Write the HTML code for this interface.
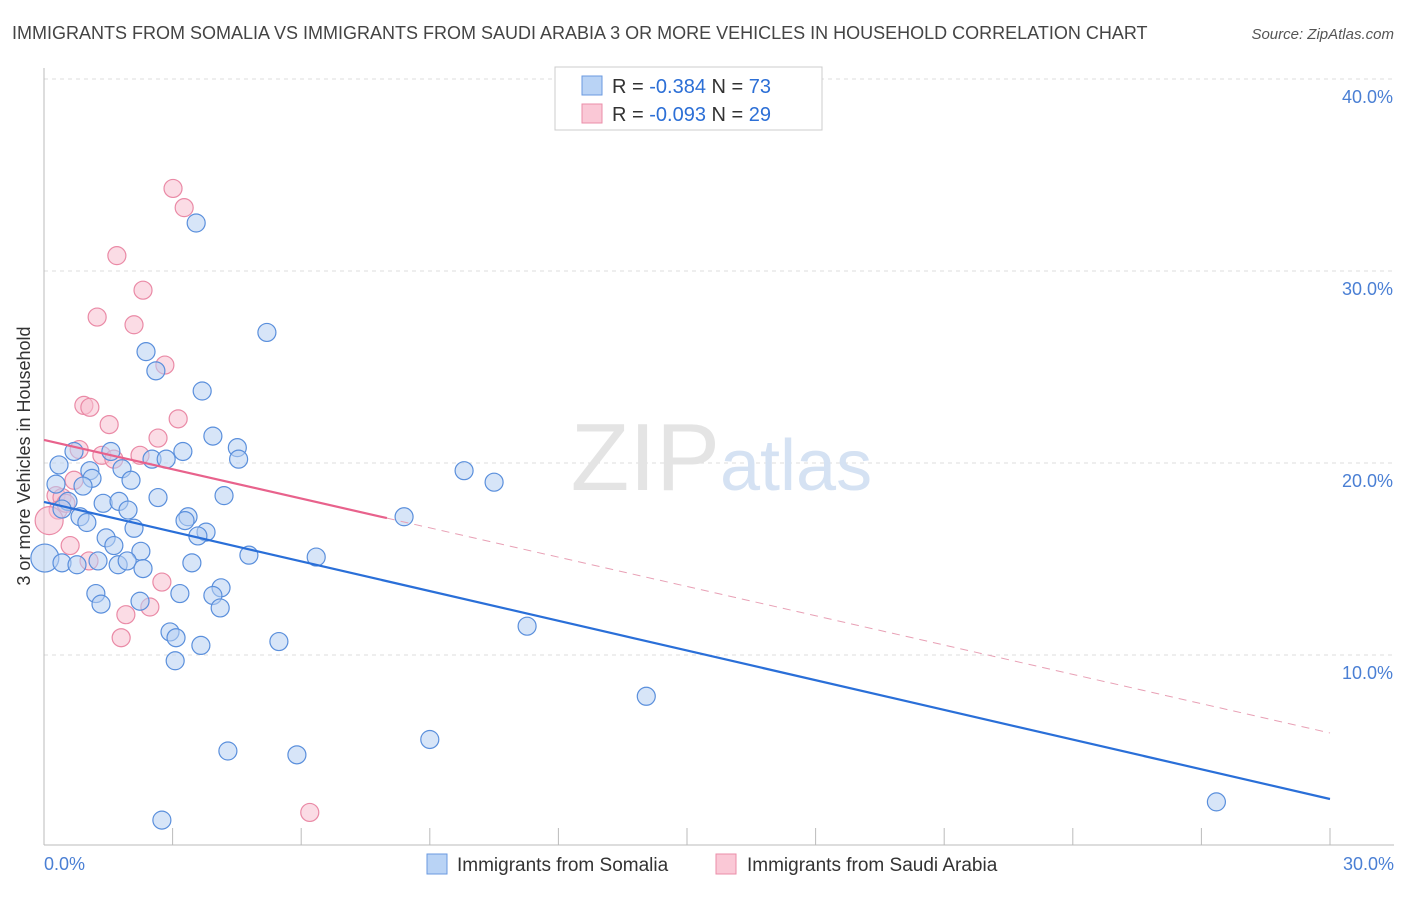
<!DOCTYPE html>
<html><head><meta charset="utf-8"><style>
body{margin:0;background:#fff;font-family:"Liberation Sans",sans-serif;}
svg text{font-family:"Liberation Sans",sans-serif;}
</style></head><body>
<svg width="1406" height="892">
<text x="12" y="39" font-size="18" fill="#444">IMMIGRANTS FROM SOMALIA VS IMMIGRANTS FROM SAUDI ARABIA 3 OR MORE VEHICLES IN HOUSEHOLD CORRELATION CHART</text>
<text x="1394" y="39" font-size="15" fill="#555" font-style="italic" text-anchor="end">Source: ZipAtlas.com</text>
<g id="grid"></g>
<text x="720" y="490" font-size="96" fill="#e4e4e4" font-family="Liberation Serif" text-anchor="end">ZIP</text>
<text x="720" y="490" font-size="72" fill="#d5e2f3">atlas</text>
<line x1="44" y1="68" x2="44" y2="845" stroke="#bbb"/>
<line x1="44" y1="845" x2="1394" y2="845" stroke="#bbb"/>
<g id="xticks"></g>
<text x="30" y="456" font-size="18" fill="#333" transform="rotate(-90 30 456)" text-anchor="middle">3 or more Vehicles in Household</text>
<text x="44" y="870" font-size="18" fill="#4a7fd4">0.0%</text>
<text x="1394" y="870" font-size="18" fill="#4a7fd4" text-anchor="end">30.0%</text>
<g id="points"></g>
<g id="lines"></g>
<g>
<rect x="555" y="67" width="267" height="63" fill="#fff" stroke="#ccc"/>
<rect x="582" y="76" width="20" height="19" fill="#b9d3f5" stroke="#6a9ae0"/>
<rect x="582" y="104" width="20" height="19" fill="#fac8d6" stroke="#eb8ea8"/>
<text x="612" y="93" font-size="20" fill="#333">R = <tspan fill="#2c6fd6">-0.384</tspan>   N = <tspan fill="#2c6fd6">73</tspan></text>
<text x="612" y="121" font-size="20" fill="#333">R = <tspan fill="#2c6fd6">-0.093</tspan>   N = <tspan fill="#2c6fd6">29</tspan></text>
</g>
<g>
<rect x="427" y="854" width="20" height="20" fill="#b9d3f5" stroke="#6a9ae0"/>
<text x="457" y="871" font-size="19" fill="#333">Immigrants from Somalia</text>
<rect x="716" y="854" width="20" height="20" fill="#fac8d6" stroke="#eb8ea8"/>
<text x="747" y="871" font-size="19" fill="#333">Immigrants from Saudi Arabia</text>
</g>
</svg>
<script>
const yTicks=[10,20,30,40];
const xTickVals=[3,6,9,12,15,18,21,24,27,30];
const somaliaX=[3.55,5.2,2.38,2.61,3.69,3.94,4.51,1.56,3.24,0.7,4.54,2.52,2.85,0.35,1.07,1.82,9.8,10.5,1.12,2.03,0.28,0.91,2.66,4.2,0.56,1.38,1.75,0.42,1.96,0.84,8.4,3.36,1.0,3.29,2.1,3.78,3.59,1.45,1.63,2.26,4.78,6.35,0.02,0.42,0.77,1.26,1.73,1.94,2.31,3.45,4.13,1.21,3.17,3.94,1.33,2.24,4.11,11.27,2.94,3.08,5.48,3.66,3.06,14.05,9.0,4.29,5.9,2.75,27.35];
const somaliaY=[32.5,26.8,25.8,24.8,23.75,21.4,20.8,20.6,20.6,20.6,20.2,20.2,20.2,19.9,19.6,19.7,19.6,19.0,19.2,19.1,18.9,18.8,18.2,18.3,18.0,17.9,18.0,17.6,17.55,17.2,17.2,17.2,16.9,17.0,16.6,16.4,16.2,16.1,15.7,15.4,15.2,15.1,15.05,14.8,14.7,14.9,14.7,14.9,14.5,14.8,13.5,13.2,13.2,13.1,12.65,12.8,12.45,11.5,11.2,10.9,10.7,10.5,9.7,7.85,5.6,5.0,4.8,1.4,2.35];
const saudiX=[3.01,3.27,1.7,2.31,1.24,2.1,2.82,0.93,1.07,3.13,1.52,2.66,0.82,1.35,2.24,1.63,0.7,0.28,0.42,0.33,0.12,0.61,1.05,2.75,2.47,1.91,1.8,6.2,0.51];
const saudiY=[34.3,33.3,30.8,29.0,27.6,27.2,25.1,23.0,22.9,22.3,22.0,21.3,20.7,20.4,20.4,20.2,19.1,18.3,18.2,17.55,17.0,15.7,14.9,13.8,12.5,12.1,10.9,1.8,17.9];
const somaliaTrend=[17.97,2.5];
const saudiTrend=[21.2,5.94];
const saudiSolidEnd=8.0;
const NS='http://www.w3.org/2000/svg';
const sx=v=>44+v/30*1286, sy=v=>847-v*19.2;
function mk(t,a,p){const e=document.createElementNS(NS,t);for(const k in a)e.setAttribute(k,a[k]);p.appendChild(e);return e;}
const grid=document.getElementById('grid');
yTicks.forEach(t=>{
 const l=mk('line',{x1:44,x2:1394,y1:sy(t),y2:sy(t),stroke:'#ddd','stroke-dasharray':'4,4'},grid);
 
 
 const tx=mk('text',{x:1393,y:sy(t)+24,'font-size':18,fill:'#4a7fd4','text-anchor':'end'},grid);
 tx.textContent=t.toFixed(1)+'%';
 
 
});
const xt=document.getElementById('xticks');
xTickVals.forEach(t=>{
 const l=mk('line',{x1:sx(t),x2:sx(t),y1:828,y2:845,stroke:'#bbb'},xt);
 
 
});
const pts=document.getElementById('points');
function draw(X,Y,fill,stroke,name){
 X.forEach((x,i)=>{
  const r=(x<0.2)?14:9;
  const c=mk('circle',{cx:sx(x),cy:sy(Y[i]),r:r,fill:fill,'fill-opacity':0.55,stroke:stroke,'stroke-width':1.2},pts);
  
  
 });
}
draw(saudiX,saudiY,'#f8bfd0','#ea8aa6','saudi-point');
draw(somaliaX,somaliaY,'#b7d0f2','#5a8fdc','somalia-point');
const ln=document.getElementById('lines');
const b=mk('line',{x1:sx(0),y1:sy(somaliaTrend[0]),x2:sx(30),y2:sy(somaliaTrend[1]),stroke:'#2a6fd8','stroke-width':2.2},ln);


const pe=saudiTrend[0]+(saudiTrend[1]-saudiTrend[0])*saudiSolidEnd/30;
const p1=mk('line',{x1:sx(0),y1:sy(saudiTrend[0]),x2:sx(saudiSolidEnd),y2:sy(pe),stroke:'#e8628c','stroke-width':2.2},ln);


const p2=mk('line',{x1:sx(saudiSolidEnd),y1:sy(pe),x2:sx(30),y2:sy(saudiTrend[1]),stroke:'#e8a0b5','stroke-width':1,'stroke-dasharray':'8,6'},ln);


</script>
</body></html>
